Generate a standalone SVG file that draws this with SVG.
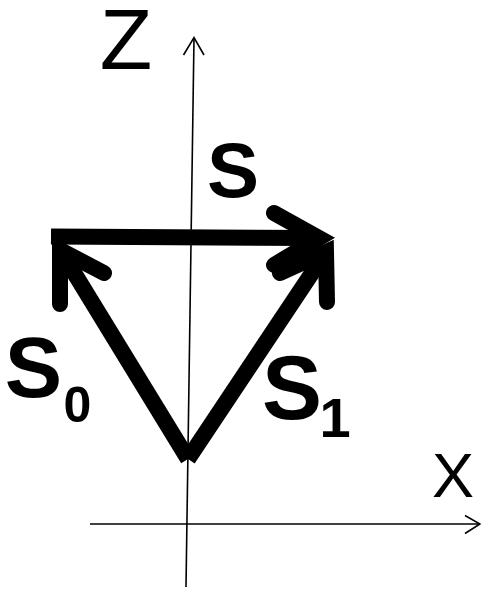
<svg xmlns="http://www.w3.org/2000/svg" width="481" height="589" viewBox="0 0 481 589">
<defs>
<style>
.axis{fill:none;stroke:#000;stroke-width:1.6}
.vec{fill:none;stroke:#000;stroke-width:16;stroke-linecap:butt}
.head{fill:none;stroke:#000;stroke-width:16;stroke-linecap:round;stroke-linejoin:miter;stroke-miterlimit:10}
.lbl{font-family:"Liberation Sans",Arial,sans-serif;fill:#000}
</style>
</defs>
<rect width="481" height="589" fill="#fff"/>
<g id="connectors">
<g id="z-axis">
<line class="axis" x1="186" y1="587" x2="194" y2="38"/>
<polyline class="axis" points="183.5,55 194,37.5 204,55"/>
</g>
<g id="x-axis">
<line class="axis" x1="90" y1="524" x2="480" y2="524"/>
<polyline class="axis" points="465,515.5 480,524 465,533.5"/>
</g>
<g id="vec-S">
<line class="vec" x1="51" y1="236.5" x2="318" y2="238"/>
<polyline class="head" points="274,213 319,238 274,265"/>
</g>
<g id="vec-S0">
<line class="vec" x1="188" y1="459" x2="62" y2="253"/>
<polyline class="head" points="60,304 60,250 104,273"/>
</g>
<g id="vec-S1">
<line class="vec" x1="188" y1="459" x2="324" y2="255"/>
<polyline class="head" points="280,273 326,252 327,302"/>
</g>
</g>
<g id="label-Z"><text class="lbl" x="126" y="69" font-size="86" text-anchor="middle">Z</text></g>
<g id="label-X"><text class="lbl" x="453" y="497" font-size="63" text-anchor="middle">X</text></g>
<g id="label-S"><text class="lbl" font-weight="bold" font-size="78" text-anchor="middle" x="233" y="197">S</text></g>
<g id="label-S0">
<text class="lbl" font-weight="bold" font-size="86" text-anchor="middle" x="33.5" y="397">S</text>
<text class="lbl" font-weight="bold" font-size="50" text-anchor="middle" x="77.5" y="422">0</text>
</g>
<g id="label-S1">
<text class="lbl" font-weight="bold" font-size="90" text-anchor="middle" x="292" y="419">S</text>
<text class="lbl" font-weight="bold" font-size="56" text-anchor="middle" x="335" y="437">1</text>
</g>
</svg>
